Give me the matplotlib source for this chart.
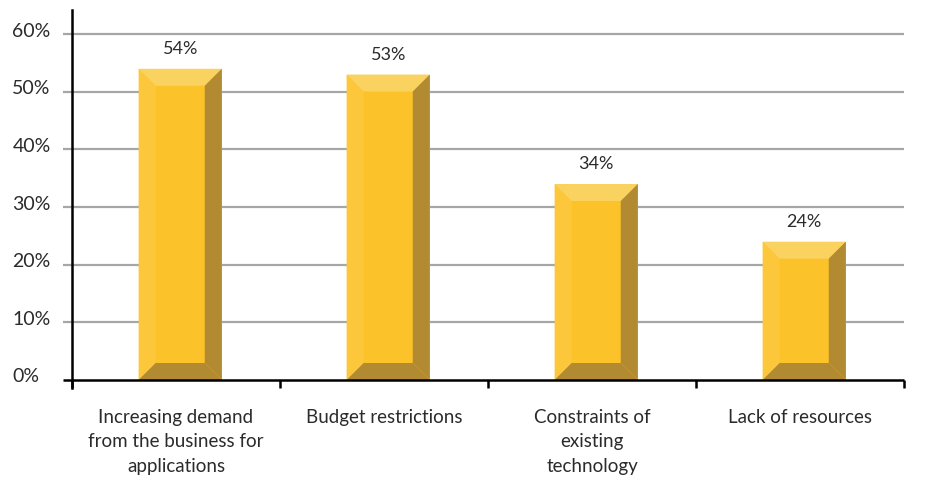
import matplotlib
matplotlib.use("Agg")
import matplotlib.pyplot as plt
from matplotlib.patches import Polygon, Rectangle
from matplotlib.transforms import ScaledTranslation

categories = [
    "Increasing demand\nfrom the business for\napplications",
    "Budget restrictions",
    "Constraints of\nexisting\ntechnology",
    "Lack of resources",
]
values = [54, 53, 34, 24]
value_labels = ["54%", "53%", "34%", "24%"]
y_ticks = [0, 10, 20, 30, 40, 50, 60]
y_tick_labels = ["0%", "10%", "20%", "30%", "40%", "50%", "60%"]

FONT = ["Lato", "DejaVu Sans"]
plt.rcParams["font.family"] = FONT

MAIN = "#fcc22a"
LIGHT_TOP = "#f9d260"
LEFT = "#fdc73c"
DARK = "#b28a32"
GRID = "#a6a6a6"
TEXT = "#2b2b2b"

fig = plt.figure(figsize=(9.26, 4.81), dpi=100)
ax = fig.add_axes([0.0778, 0.2079, 0.8985, 0.7692])
ax.set_xlim(-0.5, len(categories) - 0.5)
ax.set_ylim(0, 64.2)

# horizontal gridlines (extend a little left of the axis like outward ticks)
for t in y_ticks[1:]:
    ax.plot([-0.545, len(categories) - 0.5], [t, t], color=GRID, lw=1.6,
            clip_on=False, zorder=1, solid_capstyle="butt")
ax.plot([-0.545, len(categories) - 0.5], [0, 0], color="black", lw=1.8,
        clip_on=False, zorder=5, solid_capstyle="butt")

# beveled bars
width = 0.40
shift = 0.02
bx = 0.082
by = 2.95
for i, v in enumerate(values):
    x0 = i - width / 2 + shift
    x1 = i + width / 2 + shift
    ax.add_patch(Rectangle((x0, 0), x1 - x0, v, facecolor=MAIN, edgecolor="none", zorder=2))
    ax.add_patch(Polygon([(x0, 0), (x0, v), (x0 + bx, v - by), (x0 + bx, by)],
                         closed=True, facecolor=LEFT, edgecolor="none", zorder=3))
    ax.add_patch(Polygon([(x0, v), (x1, v), (x1 - bx, v - by), (x0 + bx, v - by)],
                         closed=True, facecolor=LIGHT_TOP, edgecolor="none", zorder=3))
    ax.add_patch(Polygon([(x1, v), (x1, 0), (x1 - bx, by), (x1 - bx, v - by)],
                         closed=True, facecolor=DARK, edgecolor="none", zorder=3))
    ax.add_patch(Polygon([(x0, 0), (x1, 0), (x1 - bx, by), (x0 + bx, by)],
                         closed=True, facecolor=DARK, edgecolor="none", zorder=3))
    ax.annotate(value_labels[i], xy=(i + shift, v), xytext=(0, 15),
                textcoords="offset points", ha="center", va="center",
                fontsize=13, color=TEXT, family=FONT)

# spines
for s in ["top", "right"]:
    ax.spines[s].set_visible(False)
ax.spines["bottom"].set_visible(False)
ax.spines["left"].set_linewidth(1.8)
ax.spines["left"].set_color("black")
ax.spines["left"].set_bounds(-1.4, 64.2)

# y axis labels, left aligned at the figure edge
ax.set_yticks(y_ticks, y_tick_labels)
ax.tick_params(axis="y", length=0, pad=43, labelsize=14, labelcolor=TEXT)
for lbl in ax.get_yticklabels():
    lbl.set_horizontalalignment("left")
    lbl.set_transform(lbl.get_transform() + ScaledTranslation(0, 4 / 72, fig.dpi_scale_trans))

# x axis: boundary tick marks, category labels in between
ax.set_xticks([i - 0.5 for i in range(len(categories) + 1)])
ax.set_xticklabels([])
ax.tick_params(axis="x", which="major", length=6, width=1.8, color="black", direction="out")
ax.set_xticks(range(len(categories)), categories, minor=True)
ax.tick_params(axis="x", which="minor", length=0, pad=20, labelsize=13.5, labelcolor=TEXT)
for lbl in ax.get_xticklabels(minor=True):
    lbl.set_linespacing(1.55)
    lbl.set_multialignment("center")

fig.savefig("out.png", dpi=100, facecolor="white")
